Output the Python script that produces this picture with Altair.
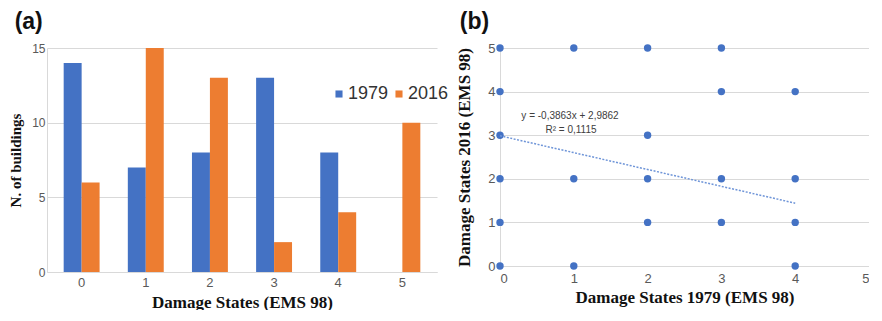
import altair as alt
import pandas as pd

# ---- data (a) ----
states = [0, 1, 2, 3, 4, 5]
counts_1979 = [14, 7, 8, 13, 8, 0]
counts_2016 = [6, 15, 13, 2, 4, 10]
years = ["1979", "2016"]

# ---- data (b) ----
scatter_x = [0, 1, 2, 3, 0, 3, 4, 0, 2, 0, 1, 2, 3, 4, 0, 2, 3, 4, 0, 1, 4]
scatter_y = [5, 5, 5, 5, 4, 4, 4, 3, 3, 2, 2, 2, 2, 2, 1, 1, 1, 1, 0, 0, 0]
slope = -0.3863
intercept = 2.9862
fit_x = [0, 4]
eq_lines = ["y = -0,3863x + 2,9862", "R² = 0,1115"]

BLUE = "#4472C4"
ORANGE = "#ED7D31"
GRID = "#D9D9D9"
LAB = "#595959"
SERIF = "Liberation Serif"
SANS = "Liberation Sans"

bars_df = pd.DataFrame({
    "state": states * 2,
    "year": [years[0]] * len(states) + [years[1]] * len(states),
    "count": counts_1979 + counts_2016,
})

bars = alt.Chart(bars_df).mark_bar().encode(
    x=alt.X("state:O",
            scale=alt.Scale(paddingInner=0.44, paddingOuter=0.26),
            axis=alt.Axis(title="Damage States (EMS 98)", labelAngle=0, ticks=False,
                          domain=True, domainColor=GRID, labelPadding=4, titlePadding=5,
                          titleFontSize=17)),
    xOffset=alt.XOffset("year:N", scale=alt.Scale(paddingInner=0, paddingOuter=0)),
    y=alt.Y("count:Q", scale=alt.Scale(domain=[0, 15]),
            axis=alt.Axis(title="N. of buildings", values=[0, 5, 10, 15], ticks=False,
                          domain=True, domainColor=GRID, grid=True, gridColor=GRID,
                          labelPadding=2, titlePadding=8, titleFontSize=15,
                          labelFontSize=12)),
    color=alt.Color("year:N", scale=alt.Scale(domain=years, range=[BLUE, ORANGE]),
                    legend=alt.Legend(title=None, orient="none", legendX=283, legendY=37,
                                      padding=0, direction="horizontal", symbolType="square",
                                      symbolSize=50, symbolStrokeWidth=0,
                                      labelFontSize=18, labelFont=SANS, labelColor="#333333",
                                      columnPadding=1, labelOffset=0)),
).properties(
    width=390, height=224,
    title=alt.TitleParams("(a)", anchor="start", frame="bounds", fontSize=23,
                          font=SANS, fontWeight="bold", dx=6, offset=8, color="#111111"),
)

pts_df = pd.DataFrame({"x": scatter_x, "y": scatter_y})
xs = alt.Scale(domain=[0, 5], nice=False)
ys = alt.Scale(domain=[0, 5], nice=False)

pts = alt.Chart(pts_df).mark_circle(size=55, opacity=1, color=BLUE).encode(
    x=alt.X("x:Q", scale=xs,
            axis=alt.Axis(title="Damage States 1979 (EMS 98)", values=[0, 1, 2, 3, 4, 5],
                          format="d", ticks=False, domain=False, grid=False, labelPadding=6,
                          titlePadding=4)),
    y=alt.Y("y:Q", scale=ys,
            axis=alt.Axis(title="Damage States 2016 (EMS 98)", values=[0, 1, 2, 3, 4, 5],
                          format="d", ticks=False, domain=True, domainColor=GRID, grid=True,
                          gridColor=GRID, labelPadding=5, titlePadding=14)),
)

fit_df = pd.DataFrame({"x": fit_x})
fit = alt.Chart(fit_df).transform_calculate(
    y=f"{slope} * datum.x + {intercept}"
).mark_line(color="#6F95D8", strokeDash=[2, 1.5], strokeWidth=1.5).encode(
    x=alt.X("x:Q", scale=xs), y=alt.Y("y:Q", scale=ys)
)

eq1 = alt.Chart(pd.DataFrame({"t": [eq_lines[0]]})).mark_text(
    fontSize=10, font=SANS, color="#404040").encode(
    text="t:N", x=alt.value(70), y=alt.value(68))
eq2 = alt.Chart(pd.DataFrame({"t": [eq_lines[1]]})).mark_text(
    fontSize=10, font=SANS, color="#404040").encode(
    text="t:N", x=alt.value(71), y=alt.value(82))

scatter = alt.layer(pts, fit, eq1, eq2).properties(
    width=369, height=218,
    title=alt.TitleParams("(b)", anchor="start", frame="bounds", fontSize=23,
                          font=SANS, fontWeight="bold", dx=4, offset=8, color="#111111"),
)

chart = alt.hconcat(bars, scatter, spacing=18).properties(
    padding={"left": 0, "top": 3, "right": 0, "bottom": 0}
).configure_view(stroke=None).configure_axis(
    labelFont=SANS, labelFontSize=13, labelColor=LAB,
    titleFont=SERIF, titleFontSize=17, titleFontWeight="bold", titleColor="#111111",
)

chart.save("out.html", embed_options={"renderer": "svg", "actions": False})
